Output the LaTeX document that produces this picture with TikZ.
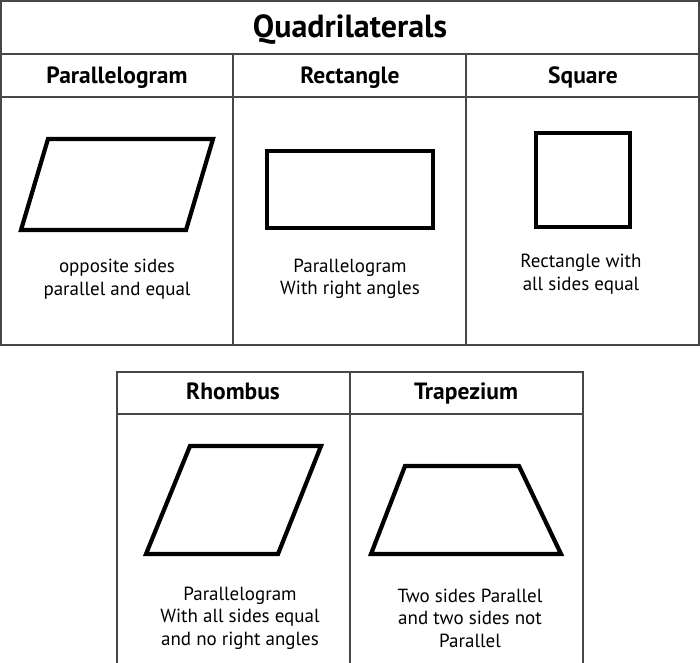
\documentclass[tikz,border=0pt]{standalone}
\usepackage{fontspec}
\setmainfont{PT Sans}
\begin{document}
\begin{tikzpicture}[x=1pt,y=-1pt,
    grid/.style={draw=black!72,line width=1.6pt},
    figline/.style={draw=black,line width=4.2pt,line join=miter},
    title/.style={font=\bfseries\fontsize{32}{36}\selectfont,anchor=base},
    head/.style={font=\bfseries\fontsize{23.5}{28}\selectfont,anchor=base},
    txt/.style={font=\fontsize{19}{22.5}\selectfont,align=center}]
\useasboundingbox(0,0)rectangle(700,662);
% top table
\draw[grid](1,1)rectangle(699,345);
\draw[grid](1,54)--(699,54);
\draw[grid](1,97)--(699,97);
\draw[grid](233,54)--(233,345);
\draw[grid](466,54)--(466,345);
\node[title](quad)at(350,37){Quadrilaterals};
\node[head](hpar)at(117,83){Parallelogram};
\node[head](hrect)at(350,83){Rectangle};
\node[head](hsq)at(583,83){Square};
% shapes
\draw[figline](48,139)--(213,139)--(186,230)--(21,230)--cycle;
\draw[figline](267,151)rectangle(433,228);
\draw[figline](536,133)rectangle(630,227);
\node[txt](tpar)at(117,279){opposite sides\\parallel and equal};
\node[txt](trect)at(350,279){Parallelogram\\With right angles};
\node[txt](tsq)at(581,274){Rectangle with\\all sides equal};
% bottom table
\draw[grid](117,664)--(117,372)--(583,372)--(583,664);
\draw[grid](117,414)--(583,414);
\draw[grid](350,372)--(350,664);
\node[head](hrho)at(233,399){Rhombus};
\node[head](htra)at(466,399){Trapezium};
\draw[figline](190,446)--(321,446)--(278,554)--(146,554)--cycle;
\draw[figline](405,466)--(519,466)--(561,554)--(371,554)--cycle;
\node[txt](trho)at(240,618){Parallelogram\\With all sides equal\\and no right angles};
\node[txt](ttra)at(470,618){Two sides Parallel\\and two sides not\\Parallel};
\end{tikzpicture}
\end{document}
